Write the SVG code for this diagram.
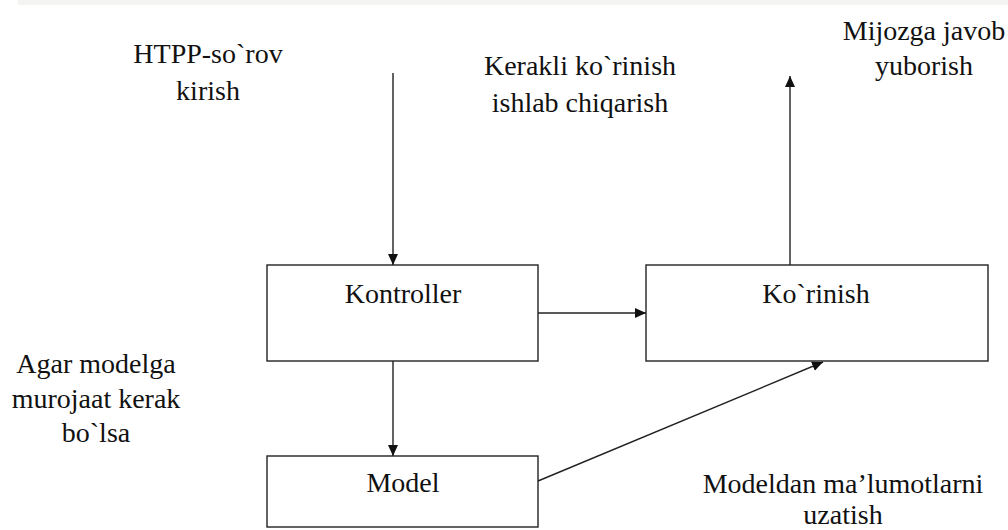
<svg xmlns="http://www.w3.org/2000/svg" width="1008" height="530" viewBox="0 0 1008 530">
<style>
.box{fill:#fff;stroke:#222;stroke-width:1.4}
.lbl{font-family:'Liberation Serif','Times New Roman','DejaVu Serif',serif;font-size:28px;fill:#111;text-anchor:middle}
.con{stroke:#222;stroke-width:1.4;fill:none;marker-end:url(#ah)}
</style>
<defs>
<marker id="ah" markerUnits="userSpaceOnUse" markerWidth="12" markerHeight="10" refX="11" refY="5" orient="auto">
<path d="M0,0 L11,5 L0,10 Z" fill="#111"/>
</marker>
</defs>
<rect x="0" y="0" width="1008" height="530" fill="#fff"/>
<rect x="18" y="0" width="990" height="5" fill="#f4f4f2"/>
<g id="kontroller">
<rect class="box" x="267" y="265" width="271" height="96"/>
<text class="lbl" x="403" y="303">Kontroller</text>
</g>
<g id="korinish">
<rect class="box" x="646" y="265" width="342" height="96"/>
<text class="lbl" x="816" y="303">Ko`rinish</text>
</g>
<g id="model">
<rect class="box" x="267" y="456" width="271" height="71"/>
<text class="lbl" x="403" y="492">Model</text>
</g>
<g id="connectors">
<line class="con" x1="393" y1="73" x2="393" y2="265"/>
<line class="con" x1="538" y1="313" x2="646" y2="313"/>
<line class="con" x1="393" y1="361" x2="393" y2="456"/>
<line class="con" x1="790" y1="265" x2="790" y2="76"/>
<line class="con" x1="538" y1="481" x2="823" y2="362"/>
</g>
<g id="labels">
<text class="lbl" x="208" y="63">HTPP-so`rov</text>
<text class="lbl" x="208" y="100">kirish</text>
<text class="lbl" x="580" y="75">Kerakli ko`rinish</text>
<text class="lbl" x="580" y="112">ishlab chiqarish</text>
<text class="lbl" x="924" y="40">Mijozga javob</text>
<text class="lbl" x="924" y="75">yuborish</text>
<text class="lbl" x="96" y="373">Agar modelga</text>
<text class="lbl" x="96" y="408">murojaat kerak</text>
<text class="lbl" x="96" y="442">bo`lsa</text>
<text class="lbl" x="843" y="493">Modeldan ma’lumotlarni</text>
<text class="lbl" x="843" y="524">uzatish</text>
</g>
</svg>
